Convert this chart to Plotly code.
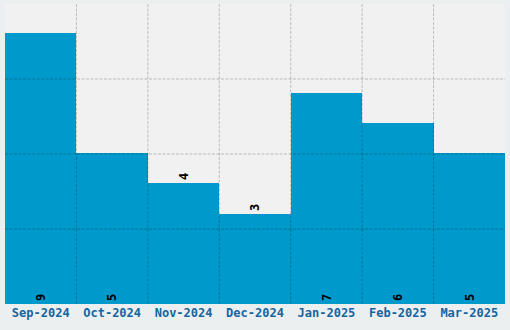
import plotly.graph_objects as go

months = ["Sep-2024", "Oct-2024", "Nov-2024", "Dec-2024", "Jan-2025", "Feb-2025", "Mar-2025"]
counts = [9, 5, 4, 3, 7, 6, 5]
label_pos = ["inside", "inside", "outside", "outside", "inside", "inside", "inside"]

GRID = dict(color="rgba(0,0,0,0.22)", width=1, dash="3px,1.5px")

fig = go.Figure(go.Bar(
    x=months, y=counts,
    marker=dict(color="#0099cc", line=dict(width=0)),
    text=[str(c) for c in counts],
    textposition=label_pos,
    insidetextanchor="start",
    textangle=-90,
    textfont=dict(family="DejaVu Sans Mono", size=12, color="#000000", weight="bold"),
    cliponaxis=False,
))

# grid drawn above the bars, as in the reference
shapes = []
for i in range(len(months) - 1):
    shapes.append(dict(type="line", xref="x", yref="y domain", x0=i + 0.5, x1=i + 0.5,
                       y0=0, y1=1, line=GRID, layer="above"))
for q in (0.25, 0.5, 0.75):
    shapes.append(dict(type="line", xref="x domain", yref="y domain", x0=0, x1=1,
                       y0=q, y1=q, line=GRID, layer="above"))

fig.update_layout(
    width=510, height=330,
    margin=dict(l=5, r=5, t=4, b=26),
    paper_bgcolor="#eceff0",
    plot_bgcolor="#f1f1f1",
    bargap=0,
    showlegend=False,
    shapes=shapes,
    xaxis=dict(showgrid=False, ticks="", zeroline=False,
               tickfont=dict(family="DejaVu Sans Mono", size=12, color="#1565a0", weight="bold")),
    yaxis=dict(range=[0, 9.95], showgrid=False, showticklabels=False, zeroline=False),
)

fig.write_html("out.html")
